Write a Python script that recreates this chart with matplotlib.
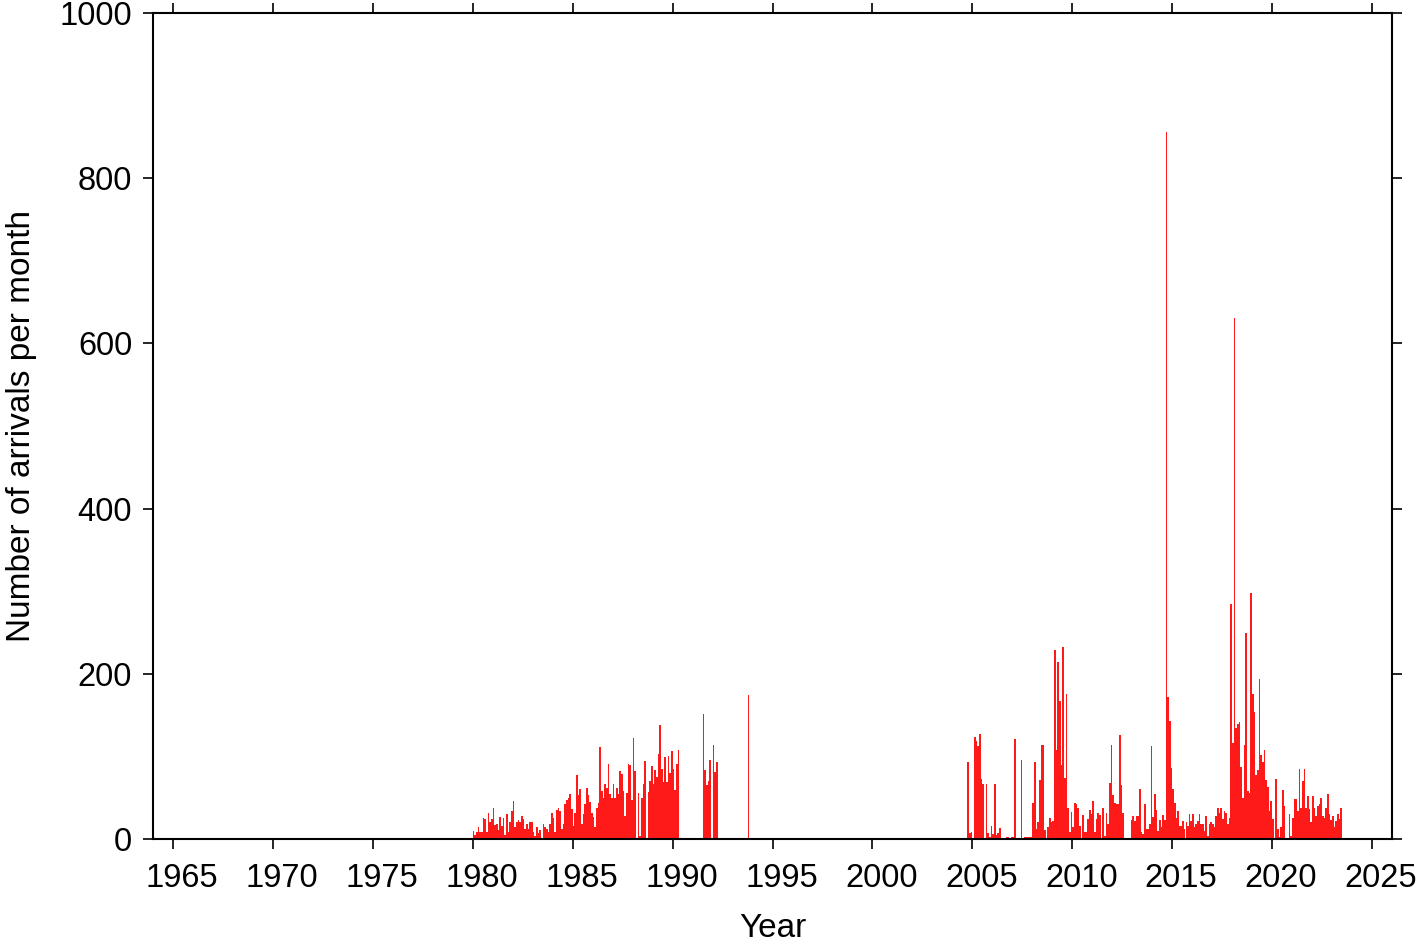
import matplotlib
matplotlib.use("Agg")
import matplotlib.pyplot as plt
import matplotlib.transforms as mtransforms
import numpy as np

plt.rcParams['font.family'] = ['Liberation Sans', 'DejaVu Sans']

# Monthly arrival counts, each block with its first month (year, month)
start_1980 = (1980, 1)
counts_1980 = [10, 5, 8, 14, 8, 8, 25, 24, 9, 32, 21, 24, 37, 17, 18, 11, 27, 16, 25, 5,
               30, 9, 21, 34, 46, 14, 21, 23, 20, 28, 24, 12, 18, 12, 21, 21, 9, 4, 14, 7,
               11, 0, 18, 15, 12, 9, 18, 31, 25, 8, 35, 38, 34, 12, 18, 42, 47]
start_1984 = (1984, 10)
counts_1984 = [50, 54, 36, 16, 32, 77, 53, 61, 18, 30, 42, 62, 53, 45, 32, 27, 15, 37, 43, 111,
               58, 50, 66, 62, 91, 54, 50, 66, 50, 62, 55, 82, 79, 58, 28, 56, 91, 89, 47, 122,
               82, 0, 56, 4, 50, 67, 94, 0, 57, 70, 88, 67, 83, 75, 103, 138, 85, 69, 99, 69,
               100, 80, 106, 85, 59, 91, 108]
start_1991 = (1991, 7)
counts_1991 = [151, 84, 65, 70, 96, 0, 114, 81, 93]
start_1993 = (1993, 10)
counts_1993 = [174]
start_2004 = (2004, 10)
counts_2004 = [93, 7, 9, 0, 123, 119, 113, 127, 73, 66, 0, 67, 7, 3, 16, 6, 67, 5, 7, 13,
               0, 1, 1, 2, 3, 0, 2, 2, 121, 0, 0, 0, 96, 0, 2, 3, 2]
start_2007 = (2007, 11)
counts_2007 = [3, 3, 43, 93, 12, 20, 71, 114, 114, 11, 0, 15, 25, 21, 22, 229, 108, 214, 167, 89,
               233, 74, 176, 37, 8, 33, 15, 44, 42, 38, 16, 0, 29, 8, 8, 24, 35, 30, 46, 9,
               24, 32]
start_2011 = (2011, 5)
counts_2011 = [29, 0, 37, 4, 31, 18, 68, 114, 53, 43, 42, 42, 126, 65, 31, 0, 0, 0, 0, 23,
               28, 22, 28, 28, 61, 9, 6, 42, 12, 12]
start_2013 = (2013, 11)
counts_2013 = [18, 112, 27, 54, 35, 10, 23, 14, 29, 23, 856, 172, 143, 86, 60, 44, 26, 34, 16, 16,
               22, 12, 20, 16, 30, 22, 30, 14, 18, 22, 30, 18, 18, 10, 28, 4, 18, 20, 18, 14,
               28, 38, 32, 38, 24, 34, 32, 18, 26]
start_2017 = (2017, 12)
counts_2017 = [285, 116, 631, 134, 139, 142, 87, 50, 114, 250, 58, 56, 298, 176, 154, 78, 84, 194,
               102, 93, 108, 72, 63]
start_2019 = (2019, 11)
counts_2019 = [34, 46, 24, 0, 73, 12, 2, 14, 59, 40, 0, 0, 30, 4, 26, 48, 48, 34, 85, 38,
               70, 85, 38, 52, 36, 20, 52, 38, 28, 40, 42, 50, 28, 26, 38, 54, 30, 23, 28, 14,
               22, 30, 24, 38]

blocks = [(start_1980, counts_1980), (start_1984, counts_1984), (start_1991, counts_1991),
          (start_1993, counts_1993), (start_2004, counts_2004), (start_2007, counts_2007),
          (start_2011, counts_2011), (start_2013, counts_2013), (start_2017, counts_2017),
          (start_2019, counts_2019)]

year_ticks = list(range(1965, 2026, 5))
count_ticks = [0, 200, 400, 600, 800, 1000]

fig = plt.figure(figsize=(14.19, 9.42), dpi=100)
ax = fig.add_axes([153 / 1419, 1 - 839 / 942, (1392 - 153) / 1419, (839 - 13) / 942])

for (y0, m0), vals in blocks:
    vals = np.asarray(vals, dtype=float)
    x = y0 + (m0 - 1) / 12 + np.arange(len(vals)) / 12
    ax.bar(x, vals, width=1 / 12, align='edge', color='#ff1a1a', edgecolor='none', linewidth=0)

ax.set_xlim(1964, 2026)
ax.set_ylim(0, 1000)
ax.set_xticks(year_ticks)
ax.set_yticks(count_ticks)
ax.tick_params(axis='both', which='major', direction='out', length=7, width=1.2,
               labelsize=23.5, top=True, right=True, color='black')
ax.tick_params(axis='x', pad=10)
ax.tick_params(axis='y', pad=8)
for s in ax.spines.values():
    s.set_linewidth(1.5)

# year labels sit slightly right of their ticks in the reference
shift = mtransforms.ScaledTranslation(9 / 100, 0, fig.dpi_scale_trans)
for lab in ax.get_xticklabels():
    lab.set_transform(lab.get_transform() + shift)

ax.set_xlabel('Year', fontsize=24, labelpad=14)
ax.set_ylabel('Number of arrivals per month', fontsize=24, labelpad=16)

fig.savefig('out.png', dpi=100)
